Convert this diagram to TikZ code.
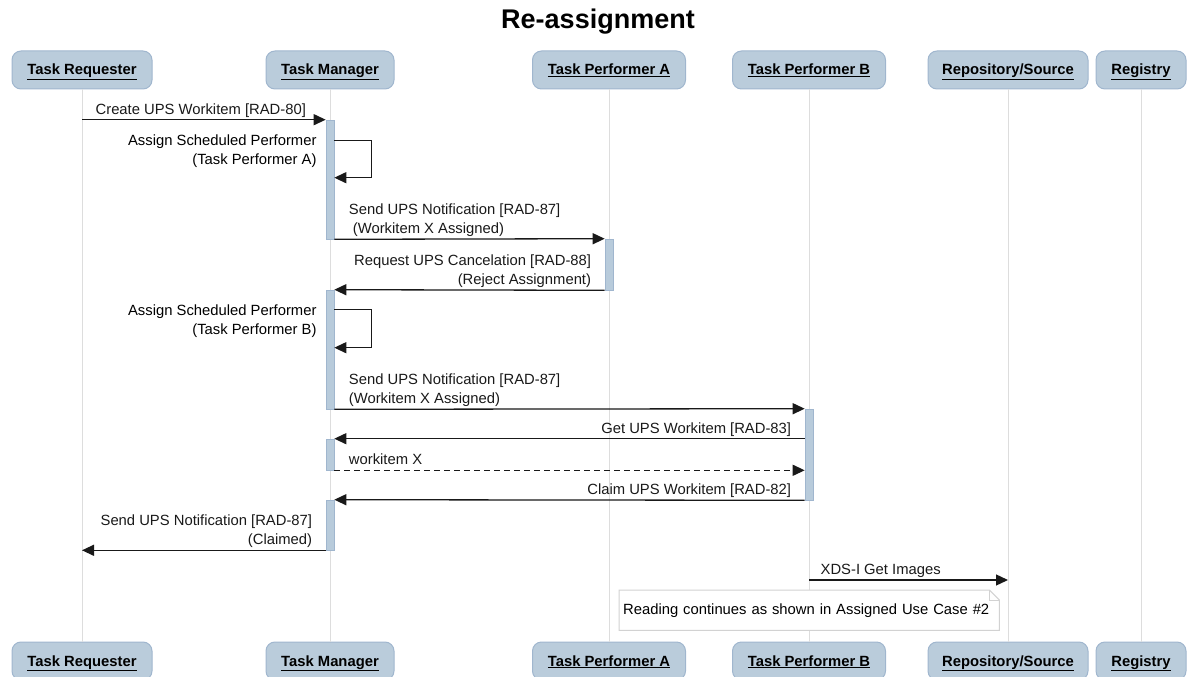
\documentclass[tikz,border=0pt]{standalone}
\usepackage{fontspec}
\setmainfont{Liberation Sans}
\usetikzlibrary{arrows.meta}
\definecolor{boxblue}{RGB}{186,204,219}
\definecolor{boxline}{RGB}{160,182,206}
\definecolor{barblue}{RGB}{184,203,219}
\definecolor{lifegray}{RGB}{221,221,221}
\definecolor{notegray}{RGB}{210,210,210}

\begin{document}
\begin{tikzpicture}[
  x=1pt,
  y=-1pt,
  mybox/.style={
    rectangle,
    rounded corners=9pt,
    fill=boxblue,
    draw=boxline,
    line width=1pt,
    minimum height=38pt,
    inner sep=0pt,
    text height=13pt,
    text depth=3pt,
    font=\fontsize{14.8}{17}\selectfont\bfseries
  },
  mybar/.style={
    rectangle,
    fill=barblue,
    draw=boxline,
    line width=0.6pt,
    minimum width=8pt,
    inner sep=0pt
  },
  lifeline/.style={lifegray, line width=1pt},
  msg/.style={black!90, line width=1.3pt, -{Triangle[length=12pt,width=11pt]}},
  lbl/.style={font=\fontsize{14.8}{19}\selectfont, inner sep=0pt, text depth=4pt}
]
\useasboundingbox (0,0) rectangle (1187,677);
\node[font=\fontsize{27}{30}\selectfont\bfseries] (title) at (598,22) {Re-assignment};

\node[mybox, minimum width=140pt] (req) at (82,70) {\underline{Task Requester}};
\node[mybox, minimum width=128pt] (tm) at (330,70) {\underline{Task Manager}};
\node[mybox, minimum width=153pt] (pa) at (609,70) {\underline{Task Performer A}};
\node[mybox, minimum width=153pt] (pb) at (809,70) {\underline{Task Performer B}};
\node[mybox, minimum width=160pt] (repo) at (1008,70) {\underline{Repository/Source}};
\node[mybox, minimum width=90pt] (reg) at (1141,70) {\underline{Registry}};
\node[mybox, minimum width=140pt] (req2) at (82,661) {\underline{Task Requester}};
\node[mybox, minimum width=128pt] (tm2b) at (330,661) {\underline{Task Manager}};
\node[mybox, minimum width=153pt] (pa2) at (609,661) {\underline{Task Performer A}};
\node[mybox, minimum width=153pt] (pb2) at (809,661) {\underline{Task Performer B}};
\node[mybox, minimum width=160pt] (repo2) at (1008,661) {\underline{Repository/Source}};
\node[mybox, minimum width=90pt] (reg2) at (1141,661) {\underline{Registry}};

\draw[lifeline] (req) -- (req2);
\draw[lifeline] (tm) -- (tm2b);
\draw[lifeline] (pa) -- (pa2);
\draw[lifeline] (pb) -- (pb2);
\draw[lifeline] (repo) -- (repo2);
\draw[lifeline] (reg) -- (reg2);

\node[mybar, minimum height=119pt] (tm1) at (330,179.5) {};
\node[mybar, minimum height=51pt] (pa1) at (609,264.5) {};
\node[mybar, minimum height=119pt] (tm2) at (330,349.5) {};
\node[mybar, minimum height=91pt] (pb1) at (809,454.5) {};
\node[mybar, minimum height=31pt] (tm3) at (330,454.5) {};
\node[mybar, minimum height=50pt] (tm4) at (330,525) {};

\draw[msg] (req |- tm1.north) -- (tm1.north west)
  node[lbl, pos=0, anchor=south west, xshift=13pt, yshift=1pt] {Create UPS Workitem [RAD-80]};
\draw[msg] ([yshift=-21pt]tm1.north east) -- ++(37,0) -- ++(0,37) -- ++(-37,0);
\node[lbl, anchor=north east, align=right] (selfA) at ([xshift=-9pt,yshift=-15pt]tm1.north west)
  {Assign Scheduled Performer\\(Task Performer A)};
\draw[msg] (tm1.south east) -- (pa1.north west)
  node[lbl, pos=0, anchor=south west, xshift=14pt, yshift=1pt, align=left]
  {Send UPS Notification [RAD-87]\\\hspace*{4pt}(Workitem X Assigned)};
\draw[msg] (pa1.south west) -- (tm2.north east)
  node[lbl, pos=0, anchor=south east, xshift=-13pt, yshift=1pt, align=right]
  {Request UPS Cancelation [RAD-88]\\(Reject Assignment)};
\draw[msg] ([yshift=-20pt]tm2.north east) -- ++(37,0) -- ++(0,38) -- ++(-37,0);
\node[lbl, anchor=north east, align=right] (selfB) at ([xshift=-9pt,yshift=-15pt]tm2.north west)
  {Assign Scheduled Performer\\(Task Performer B)};
\draw[msg] (tm2.south east) -- (pb1.north west)
  node[lbl, pos=0, anchor=south west, xshift=14pt, yshift=1pt, align=left]
  {Send UPS Notification [RAD-87]\\(Workitem X Assigned)};
\draw[msg] (pb1.west |- tm3.north) -- (tm3.north east)
  node[lbl, pos=0, anchor=south east, xshift=-13pt, yshift=1pt] {Get UPS Workitem [RAD-83]};
\draw[msg, dash pattern=on 6pt off 4pt] (tm3.south east) -- (tm3.south east -| pb1.west)
  node[lbl, pos=0, anchor=south west, xshift=14pt, yshift=1pt] {workitem X};
\draw[msg] (pb1.south west) -- (tm4.north east)
  node[lbl, pos=0, anchor=south east, xshift=-13pt, yshift=1pt] {Claim UPS Workitem [RAD-82]};
\draw[msg] (tm4.south west) -- (req |- tm4.south)
  node[lbl, pos=0, anchor=south east, xshift=-13pt, yshift=1pt, align=right]
  {Send UPS Notification [RAD-87]\\(Claimed)};
\coordinate (xds) at (809,580);
\draw[msg] (xds) -- (repo |- xds)
  node[lbl, pos=0, anchor=south west, xshift=11pt, yshift=1pt] {XDS-I Get Images};

\node[anchor=north west, fill=white, text width=372pt, inner xsep=4pt, inner ysep=0pt,
  minimum height=40pt, align=left, font=\fontsize{14.8}{19}\selectfont] (note) at (619,590)
  {Reading continues as shown in Assigned Use Case \#2};
\draw[notegray, line width=1pt] (note.north west) -- ([xshift=-10pt]note.north east)
  -- ([yshift=-10pt]note.north east) -- (note.south east) -- (note.south west) -- cycle;
\draw[notegray, line width=1pt] ([xshift=-10pt]note.north east) -- ([xshift=-10pt,yshift=-10pt]note.north east)
  -- ([yshift=-10pt]note.north east);
\end{tikzpicture}
\end{document}
